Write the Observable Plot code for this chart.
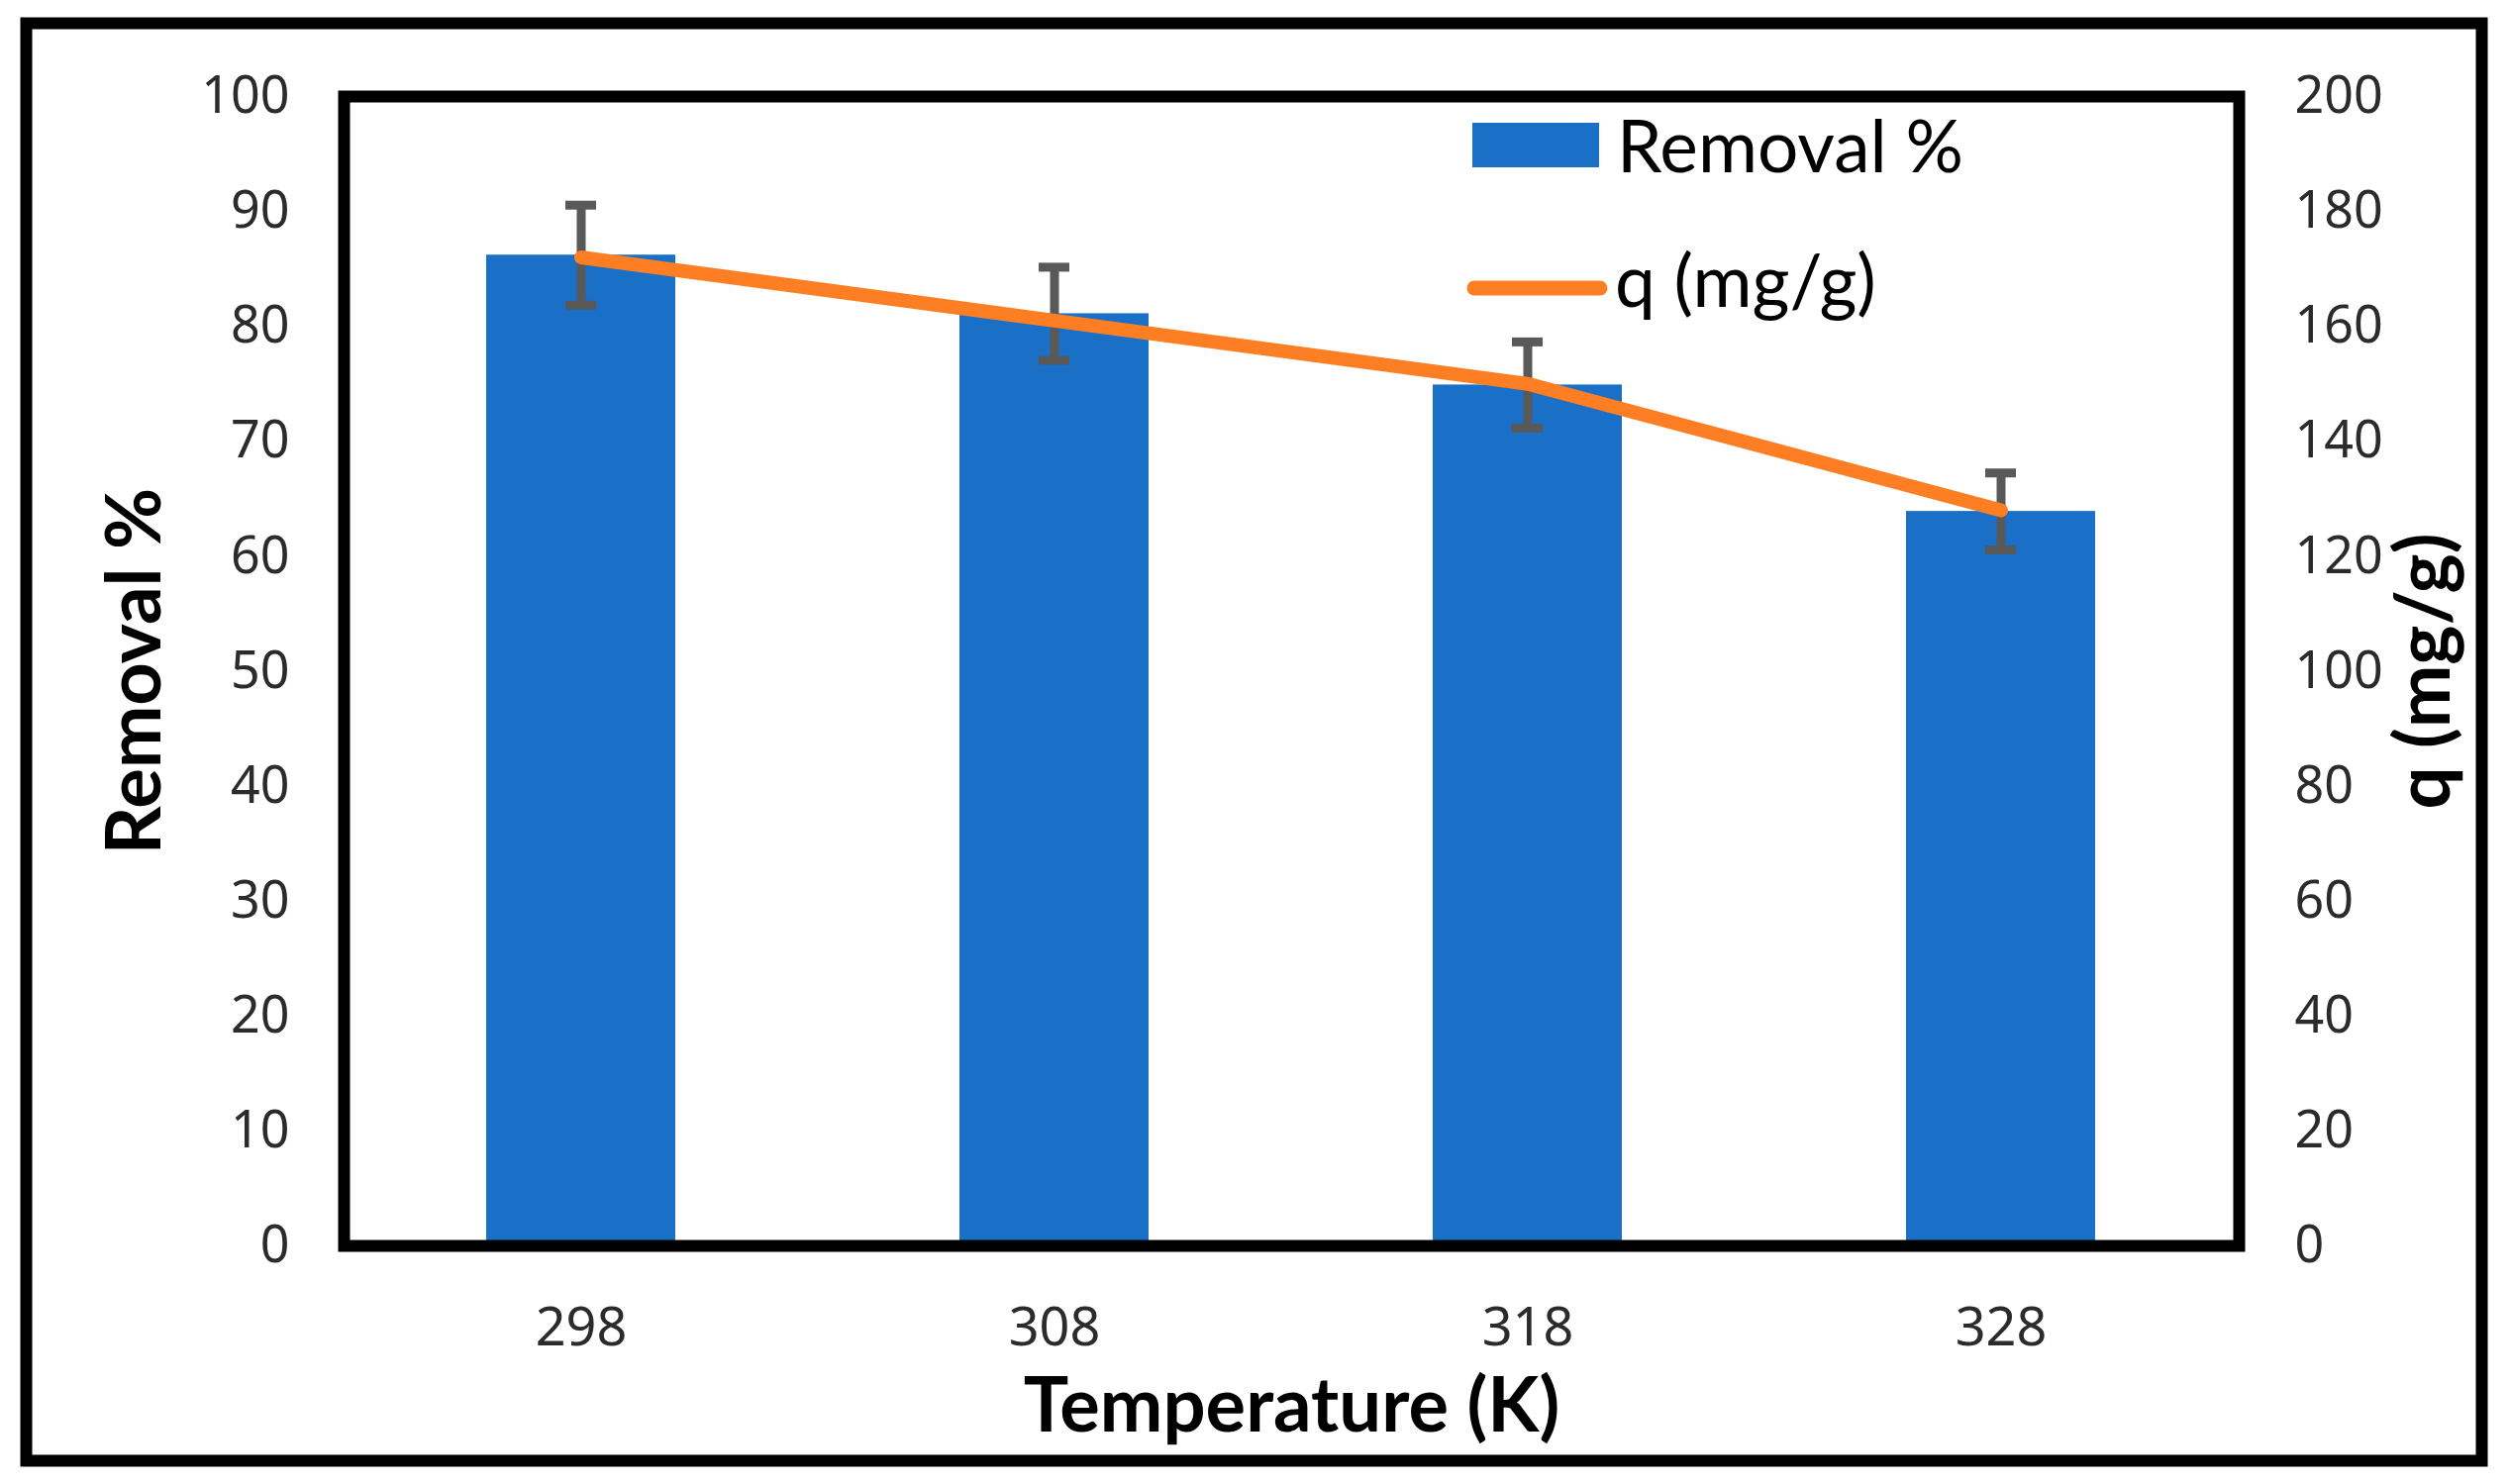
<!DOCTYPE html>
<html>
<head>
<meta charset="utf-8">
<script src="https://cdn.jsdelivr.net/npm/d3@7"></script>
<script src="https://cdn.jsdelivr.net/npm/@observablehq/plot@0.6"></script>
<style>
  html, body { margin: 0; padding: 0; background: #fff; }
  #chart svg { display: block; }
</style>
</head>
<body>
<div id="chart"></div>
<script>
// values
const temps = ["298", "308", "318", "328"];
const removal = [86.2, 81.1, 74.9, 63.9];
const removalErr = [4.35, 4.05, 3.75, 3.35];
const qValues = [172, 161, 150, 128];
const leftTicks = [0, 10, 20, 30, 40, 50, 60, 70, 80, 90, 100];
const rightTicks = [0, 20, 40, 60, 80, 100, 120, 140, 160, 180, 200];

const blue = "#1a70c7";
const orange = "#fe7f23";
const errGray = "#595959";

const data = temps.map((t, i) => ({temp: t, removal: removal[i], err: removalErr[i], q: qValues[i]}));

// q axis (0-200) sits on the same y scale as Removal % (0-100), so q is halved
const qToY = v => v / 2;

const labelFont = {fontFamily: "Lato", fontWeight: "bold", fontSize: 76, fill: "#000"};

const chart = Plot.plot({
  width: 2535,
  height: 1499,
  marginLeft: 347,
  marginRight: 274,
  marginTop: 97,
  marginBottom: 241,
  style: {fontFamily: "Noto Sans", fontSize: "52px", color: "#2b2b2b", background: "#fff"},
  x: {domain: temps, paddingInner: 0.6, paddingOuter: 0.3},
  y: {domain: [0, 100]},
  marks: [
    Plot.barY(data, {x: "temp", y: "removal", fill: blue}),
    Plot.ruleX(data, {x: "temp", y1: d => d.removal - d.err, y2: d => d.removal + d.err, stroke: errGray, strokeWidth: 9}),
    Plot.tickY(data, {x: "temp", y: d => d.removal + d.err, stroke: errGray, strokeWidth: 9, insetLeft: 80, insetRight: 80}),
    Plot.tickY(data, {x: "temp", y: d => d.removal - d.err, stroke: errGray, strokeWidth: 9, insetLeft: 80, insetRight: 80}),
    Plot.line(data, {x: "temp", y: d => qToY(d.q), stroke: orange, strokeWidth: 14, strokeLinecap: "round", strokeLinejoin: "round"}),
    Plot.axisY(leftTicks, {anchor: "left", tickSize: 0, tickPadding: 55, label: null, fontSize: 52}),
    Plot.axisY(rightTicks.map(qToY), {anchor: "right", tickSize: 0, tickPadding: 56, label: null, fontSize: 52, tickFormat: d => String(d * 2)}),
    Plot.axisX({tickSize: 0, tickPadding: 62, label: null, fontSize: 54}),
    Plot.text(["Removal %"], {frameAnchor: "left", dx: -210, rotate: -90, textAnchor: "middle", lineAnchor: "middle", ...labelFont}),
    Plot.text(["q (mg/g)"], {frameAnchor: "right", dx: 188, rotate: -90, textAnchor: "middle", lineAnchor: "middle", ...labelFont}),
    Plot.text(["Temperature (K)"], {frameAnchor: "bottom", dy: 163, textAnchor: "middle", lineAnchor: "middle", ...labelFont}),
    Plot.frame({stroke: "#000", strokeWidth: 12}),
    Plot.frame({stroke: "#000", strokeWidth: 12, insetLeft: -321, insetRight: -245, insetTop: -74, insetBottom: -217})
  ]
});

// legend, top right inside the plot area
const svg = d3.select(chart);
const legend = svg.append("g")
  .attr("font-family", "Lato").attr("font-size", 73).attr("fill", "#000").attr("text-anchor", "start");
legend.append("rect").attr("x", 1487).attr("y", 124).attr("width", 128).attr("height", 45).attr("fill", blue);
legend.append("text").attr("x", 1633).attr("y", 174).text("Removal %");
legend.append("line").attr("x1", 1489).attr("x2", 1616).attr("y1", 291).attr("y2", 291)
  .attr("stroke", orange).attr("stroke-width", 15).attr("stroke-linecap", "round");
legend.append("text").attr("x", 1631).attr("y", 310).text("q (mg/g)");

d3.select("#chart").append(() => chart);
</script>
</body>
</html>
